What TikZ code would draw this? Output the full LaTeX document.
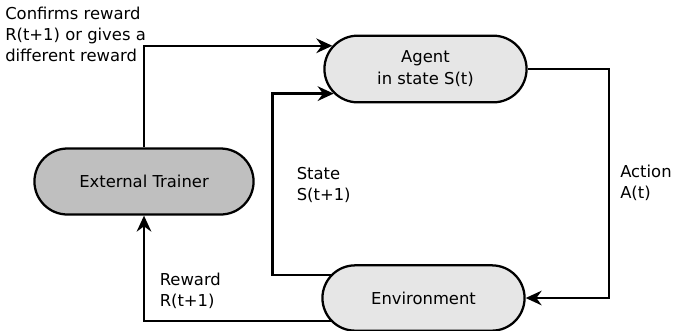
\documentclass[tikz,border=0pt]{standalone}
\usepackage{fontspec}
\setmainfont{DejaVu Sans}
\usepackage{tikz}
\usetikzlibrary{shapes.misc,arrows.meta}
\definecolor{boxgray}{HTML}{E6E6E6}
\definecolor{trainergray}{HTML}{BFBFBF}

\begin{document}
\begin{tikzpicture}[x=0.75pt, y=-0.75pt]
				% Define styles for boxes
				\tikzset{
					flowbox/.style={
						rounded rectangle,
						draw,
						line width=1.7pt,
						fill=boxgray,
						minimum width=158.25pt,
						minimum height=50pt,
						align=center,
						font=\fontsize{12.3}{16.5}\selectfont
					},
					trainerbox/.style={
						flowbox,
						fill=trainergray,
						minimum width=171pt,
						minimum height=49.5pt
					},
					lbl/.style={
						anchor=north west,
						inner sep=0pt,
						align=left,
						font=\fontsize{12.3}{15.8}\selectfont
					},
					flow/.style={
						line width=1.7pt,
						-{Stealth[length=12pt, width=11pt, inset=4pt]}
					}
				}
				\useasboundingbox (0,0) rectangle (673,330);
				
				% Nodes for the learning loop
				\node[flowbox] (agent) at (425.5,69) {Agent\\in state S(t)};
				\node[flowbox, minimum height=49pt] (environment) at (423.5,298) {Environment};
				\node[trainerbox] (trainer) at (144,181.5) {External Trainer};
				
				% Arrows around the loop
				\draw[flow] (agent.east) -- ++(81,0) |- (environment.east);
				\draw[flow] (environment.166) -- ++(-58,0) |- (agent.195);
				\draw[flow] (environment.194) -| (trainer.south);
				\draw[flow] (trainer.north) |- (agent.166);
				
				% Labels next to the arrows
				\node[lbl] (confirmsLbl) at (5,6.5) {Confirms reward\\R(t+1) or gives a\\different reward};
				\node[lbl] (stateLbl) at (296.5,167) {State\\S(t+1)};
				\node[lbl] (actionLbl) at (620,165) {Action\\A(t)};
				\node[lbl] (rewardLbl) at (159.5,272.5) {Reward\\R(t+1)};
			\end{tikzpicture}
\end{document}
